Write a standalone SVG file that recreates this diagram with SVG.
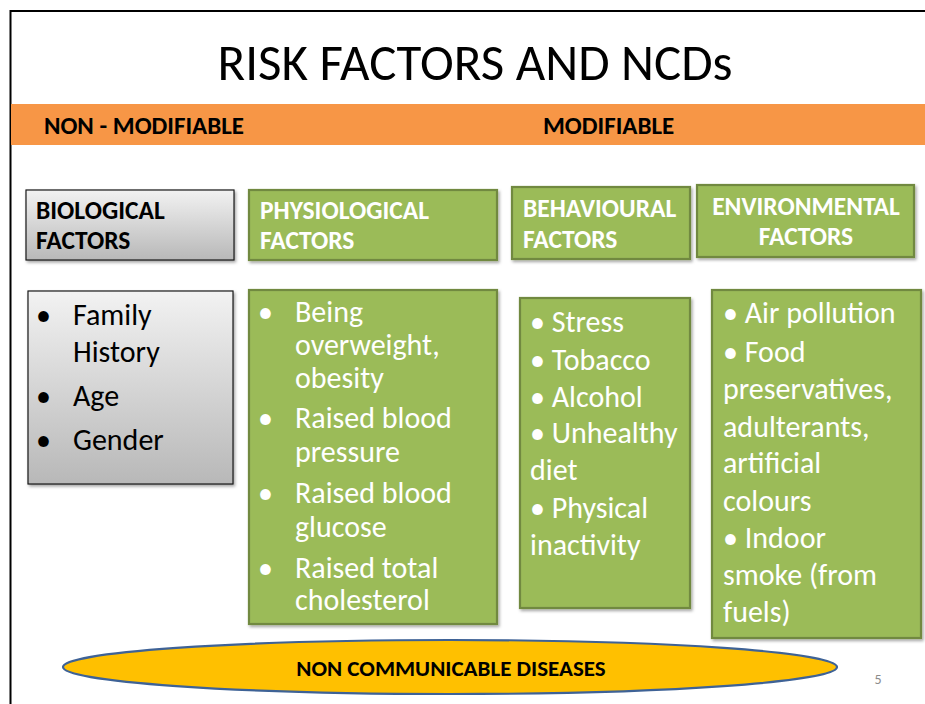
<svg xmlns="http://www.w3.org/2000/svg" width="925" height="704" viewBox="0 0 925 704">
<defs>
<linearGradient id="gray" x1="0" y1="0" x2="0" y2="1">
<stop offset="0" stop-color="#f2f2f2"/>
<stop offset="1" stop-color="#b8b8b8"/>
</linearGradient>
<filter id="sh" x="-10%" y="-10%" width="130%" height="130%">
<feDropShadow dx="1.5" dy="2" stdDeviation="1.5" flood-color="#000" flood-opacity="0.35"/>
</filter>
<style>
text{font-family:Carlito,Lato,"Open Sans",sans-serif}
.t{font-size:51px;fill:#000}
.band{font-size:25px;font-weight:bold;fill:#000}
.hd{font-size:25.5px;font-weight:bold}
.hdw{fill:#fff}
.hdb{fill:#000}
.gbox{fill:url(#gray);stroke:#1a1a1a;stroke-width:1.2;filter:url(#sh)}
.green{fill:#9BBB59;stroke:#71893F;stroke-width:2.2;filter:url(#sh)}
.li{font-size:30px;fill:#000}
.lw{font-size:30px;fill:#fff}
.ncd{font-size:23px;font-weight:bold;fill:#000}
</style>
</defs>
<rect x="0" y="0" width="925" height="704" fill="#fff"/>
<path d="M10.5,704 V11 H925" fill="none" stroke="#000" stroke-width="2"/>
<text class="t" x="475" y="80" text-anchor="middle">RISK FACTORS AND NCDs</text>
<rect x="11" y="104" width="914" height="41" fill="#F79646"/>
<text class="band" x="44" y="134">NON - MODIFIABLE</text>
<text class="band" x="543" y="134">MODIFIABLE</text>

<g id="biological-header">
<rect class="gbox" x="26" y="190" width="208" height="70"/>
<text class="hd hdb" x="36" y="219">BIOLOGICAL</text>
<text class="hd hdb" x="36" y="249">FACTORS</text>
</g>
<g id="physiological-header">
<rect class="green" x="249" y="190" width="248" height="70"/>
<text class="hd hdw" x="260" y="219">PHYSIOLOGICAL</text>
<text class="hd hdw" x="260" y="249">FACTORS</text>
</g>
<g id="behavioural-header">
<rect class="green" x="512" y="187" width="178" height="72"/>
<text class="hd hdw" x="523" y="217">BEHAVIOURAL</text>
<text class="hd hdw" x="523" y="248">FACTORS</text>
</g>
<g id="environmental-header">
<rect class="green" x="697" y="185" width="217" height="72"/>
<text class="hd hdw" x="806" y="215" text-anchor="middle">ENVIRONMENTAL</text>
<text class="hd hdw" x="806" y="245" text-anchor="middle">FACTORS</text>
</g>

<g id="biological-list">
<rect class="gbox" x="28" y="291" width="205" height="193"/>
<text class="li" x="36" y="325">•</text><text class="li" x="73" y="325">Family</text>
<text class="li" x="73" y="362">History</text>
<text class="li" x="36" y="406">•</text><text class="li" x="73" y="406">Age</text>
<text class="li" x="36" y="450">•</text><text class="li" x="73" y="450">Gender</text>
</g>

<g id="physiological-list">
<rect class="green" x="249" y="290" width="248" height="334"/>
<text class="lw" x="258" y="322">•</text><text class="lw" x="295" y="322">Being</text>
<text class="lw" x="295" y="355">overweight,</text>
<text class="lw" x="295" y="388">obesity</text>
<text class="lw" x="258" y="428">•</text><text class="lw" x="295" y="428">Raised blood</text>
<text class="lw" x="295" y="462">pressure</text>
<text class="lw" x="258" y="503">•</text><text class="lw" x="295" y="503">Raised blood</text>
<text class="lw" x="295" y="537">glucose</text>
<text class="lw" x="258" y="578">•</text><text class="lw" x="295" y="578">Raised total</text>
<text class="lw" x="295" y="610">cholesterol</text>
</g>

<g id="behavioural-list">
<rect class="green" x="520" y="298" width="170" height="310"/>
<text class="lw" x="530" y="332">• Stress</text>
<text class="lw" x="530" y="370">• Tobacco</text>
<text class="lw" x="530" y="407">• Alcohol</text>
<text class="lw" x="530" y="443">• Unhealthy</text>
<text class="lw" x="530" y="480">diet</text>
<text class="lw" x="530" y="518">• Physical</text>
<text class="lw" x="530" y="555">inactivity</text>
</g>

<g id="environmental-list">
<rect class="green" x="712" y="290" width="209" height="348"/>
<text class="lw" x="723" y="323">• Air pollution</text>
<text class="lw" x="723" y="362">• Food</text>
<text class="lw" x="723" y="399">preservatives,</text>
<text class="lw" x="723" y="437">adulterants,</text>
<text class="lw" x="723" y="473">artificial</text>
<text class="lw" x="723" y="511">colours</text>
<text class="lw" x="723" y="548">• Indoor</text>
<text class="lw" x="723" y="585">smoke (from</text>
<text class="lw" x="723" y="622">fuels)</text>
</g>

<g id="ncd">
<ellipse cx="450" cy="667" rx="387" ry="27" fill="#FFC000" stroke="#3E6296" stroke-width="2.2"/>
<text class="ncd" x="451" y="676" text-anchor="middle">NON COMMUNICABLE DISEASES</text>
</g>
<g id="connectors"/>
<text x="878" y="684" text-anchor="middle" font-size="14" fill="#8c8c8c">5</text>
</svg>
